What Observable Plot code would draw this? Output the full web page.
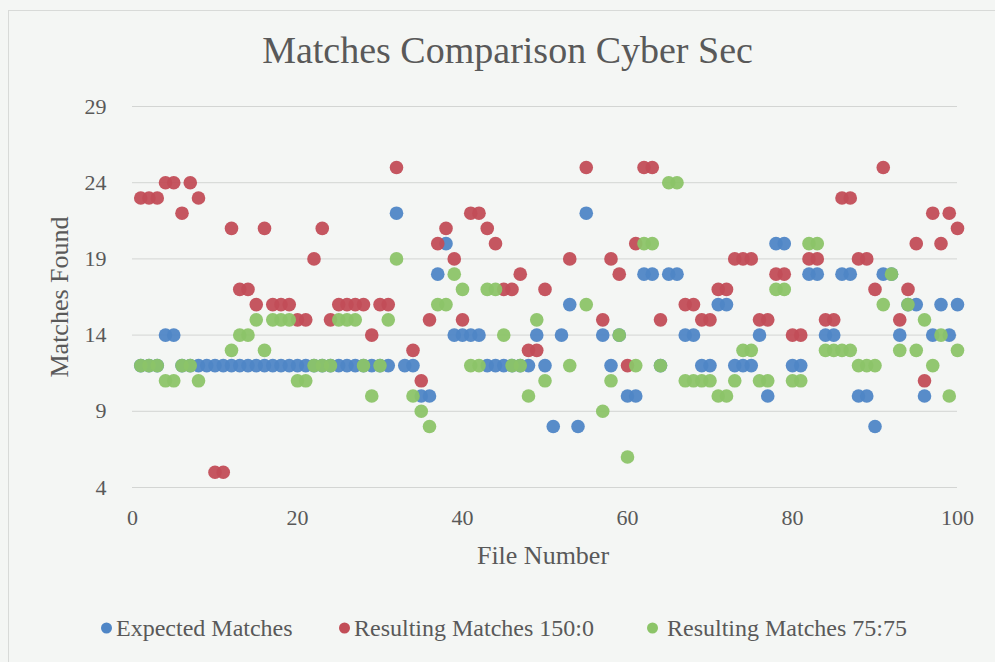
<!DOCTYPE html>
<html><head><meta charset="utf-8">
<script src="https://cdn.jsdelivr.net/npm/d3@7"></script>
<script src="https://cdn.jsdelivr.net/npm/@observablehq/plot@0.6"></script>
<style>
html,body{margin:0;padding:0;background:#f4f6f4;width:995px;height:662px;overflow:hidden;font-family:"Liberation Serif",serif;color:#595959}
#wrap{position:relative;width:995px;height:662px}
#frame{position:absolute;left:8px;top:10px;width:1000px;height:700px;border:1px solid #d8dad8}
#title{position:absolute;left:10px;width:995px;top:31px;text-align:center;font-size:38px;line-height:38px;color:#595959;white-space:nowrap}
#chart{position:absolute;left:0;top:80px}
#ytitle{position:absolute;left:60px;top:297px;transform:translate(-50%,-50%) rotate(-90deg);font-size:26px;white-space:nowrap}
#xtitle{position:absolute;left:543px;top:556px;transform:translate(-50%,-50%);font-size:26px;white-space:nowrap}
.leg{position:absolute;top:628px;transform:translateY(-50%);font-size:24px;display:flex;align-items:center;white-space:nowrap}
.leg i{display:inline-block;width:11px;height:11px;border-radius:50%;margin-right:4px}
</style></head>
<body>
<div id="wrap">
  <div id="frame"></div>
  <div id="title"></div>
  <div id="chart"></div>
  <div id="ytitle"></div>
  <div id="xtitle"></div>
  <div id="legend"></div>
</div>
<script>
const titleText = "Matches Comparison Cyber Sec";
const xTitle = "File Number";
const yTitle = "Matches Found";
const seriesNames = ["Expected Matches", "Resulting Matches 150:0", "Resulting Matches 75:75"];
const seriesColors = ["#4f86c6", "#c24d57", "#8cc468"];
const xTicks = [0, 20, 40, 60, 80, 100];
const yTicks = [4, 9, 14, 19, 24, 29];

const fileNumber = [1,2,3,4,5,6,7,8,9,10,11,12,13,14,15,16,17,18,19,20,
21,22,23,24,25,26,27,28,29,30,31,32,33,34,35,36,37,38,39,40,
41,42,43,44,45,46,47,48,49,50,51,52,53,54,55,56,57,58,59,60,
61,62,63,64,65,66,67,68,69,70,71,72,73,74,75,76,77,78,79,80,
81,82,83,84,85,86,87,88,89,90,91,92,93,94,95,96,97,98,99,100];

const expected = [12,12,12,14,14,12,12,12,12,12,
12,12,12,12,12,12,12,12,12,12,
12,12,12,12,12,12,12,12,12,12,
12,22,12,12,10,10,18,20,14,14,
14,14,12,12,12,12,12,12,14,12,
8,14,16,8,22,null,14,12,14,10,
10,18,18,12,18,18,14,14,12,12,
16,16,12,12,12,14,10,20,20,12,
12,18,18,14,14,18,18,10,10,8,
18,18,14,16,16,10,14,16,14,16];

const result150 = [23,23,23,24,24,22,24,23,null,5,
5,21,17,17,16,21,16,16,16,15,
15,19,21,15,16,16,16,16,14,16,
16,25,null,13,11,15,20,21,19,15,
22,22,21,20,17,17,18,13,13,17,
null,null,19,null,25,null,15,19,18,12,
20,25,25,15,null,null,16,16,15,15,
17,17,19,19,19,15,15,18,18,14,
14,19,19,15,15,23,23,19,19,17,
25,null,15,17,20,11,22,20,22,21];

const result7575 = [12,12,12,11,11,12,12,11,null,null,
null,13,14,14,15,13,15,15,15,11,
11,12,12,12,15,15,15,12,10,12,
15,19,null,10,9,8,16,16,18,17,
12,12,17,17,14,12,12,10,15,11,
null,null,12,null,16,null,9,11,14,6,
12,20,20,12,24,24,11,11,11,11,
10,10,11,13,13,11,11,17,17,11,
11,20,20,13,13,13,13,12,12,12,
16,18,13,16,13,15,12,14,10,13];

const seriesValues = [expected, result150, result7575];
const rows = [];
seriesValues.forEach((vals, s) => {
  fileNumber.forEach((f, i) => {
    if (vals[i] != null) rows.push({file: f, value: vals[i], series: seriesNames[s]});
  });
});

document.getElementById("title").textContent = titleText;
document.getElementById("xtitle").textContent = xTitle;
document.getElementById("ytitle").textContent = yTitle;

const chart = Plot.plot({
  width: 995, height: 460,
  marginLeft: 132, marginRight: 38, marginTop: 26, marginBottom: 53,
  style: {background: "transparent", fontFamily: "Liberation Serif, serif", color: "#595959"},
  x: {domain: [0, 100]},
  y: {domain: [4, 29]},
  color: {domain: seriesNames, range: seriesColors},
  marks: [
    Plot.gridY(yTicks, {stroke: "#d3d5d3", strokeOpacity: 1, strokeWidth: 1}),
    Plot.axisY(yTicks, {tickSize: 0, tickPadding: 26, fontSize: 22, label: null}),
    Plot.axisX(xTicks, {tickSize: 0, tickPadding: 22, fontSize: 22, label: null}),
    Plot.dot(rows, {x: "file", y: "value", fill: "series", r: 6.8, stroke: null, fillOpacity: 0.95})
  ]
});
document.getElementById("chart").appendChild(chart);

const legendPos = [101, 339, 647];
const legend = document.getElementById("legend");
seriesNames.forEach((n, k) => {
  const d = document.createElement("div");
  d.className = "leg";
  d.style.left = legendPos[k] + "px";
  const m = document.createElement("i");
  m.style.background = seriesColors[k];
  if (k === 2) m.style.marginRight = "9px";
  d.appendChild(m);
  d.appendChild(document.createTextNode(n));
  legend.appendChild(d);
});
</script>
</body></html>
